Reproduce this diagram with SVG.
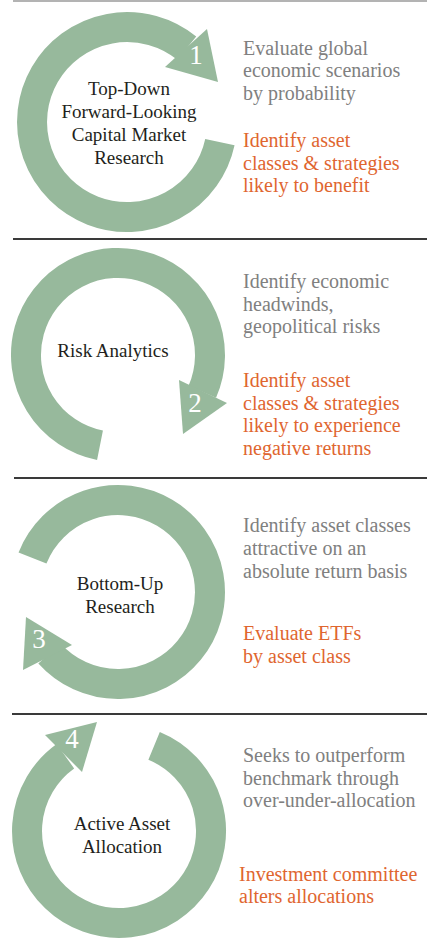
<svg xmlns="http://www.w3.org/2000/svg" width="427" height="948" viewBox="0 0 427 948">
<style>
.ring{fill:none;stroke:#97b99c;stroke-width:30;stroke-linecap:butt}
.head{fill:#97b99c}
.num{font-family:"Liberation Serif",serif;font-size:27px;fill:#ffffff;text-anchor:middle}
.title{font-family:"Liberation Serif",serif;font-size:19px;fill:#231f20;text-anchor:middle}
.desc{font-family:"Liberation Serif",serif;font-size:20px;fill:#808080}
.act{font-family:"Liberation Serif",serif;font-size:20px;fill:#df6630}
.sep{stroke:#3a3a3a;stroke-width:2}
</style>
<rect width="427" height="948" fill="#ffffff"/>
<g id="separators">
<line x1="13" y1="1" x2="427" y2="1" stroke="#b3b3b3" stroke-width="2"/>
<line class="sep" x1="13" y1="239" x2="427" y2="239"/>
<line class="sep" x1="14" y1="478" x2="427" y2="478"/>
<line class="sep" x1="12" y1="714" x2="427" y2="714"/>
</g>
<g id="node1">
<path class="ring" d="M 219.9 142.1 A 95 95 0 1 1 186.8 48.2"/>
<polygon class="head" points="165,67 207,29 218,82"/>
<text class="num" x="196" y="64">1</text>
<text class="title" x="129" y="94.5">Top-Down</text>
<text class="title" x="129" y="117.5">Forward-Looking</text>
<text class="title" x="129" y="140.5">Capital Market</text>
<text class="title" x="129" y="163.5">Research</text>
<text class="desc" x="243" y="54.5">Evaluate global</text>
<text class="desc" x="243" y="77">economic scenarios</text>
<text class="desc" x="243" y="99.5">by probability</text>
<text class="act" x="243" y="147">Identify asset</text>
<text class="act" x="243" y="169.5">classes &amp; strategies</text>
<text class="act" x="243" y="192">likely to benefit</text>
</g>
<g id="node2">
<path class="ring" d="M 100 445.2 A 92 92 0 1 1 202.3 391.8"/>
<polygon class="head" points="179,380 227,403 183,434"/>
<text class="num" x="195" y="412">2</text>
<text class="title" x="113" y="357">Risk Analytics</text>
<text class="desc" x="243" y="288">Identify economic</text>
<text class="desc" x="243" y="310.5">headwinds,</text>
<text class="desc" x="243" y="333">geopolitical risks</text>
<text class="act" x="243" y="387">Identify asset</text>
<text class="act" x="243" y="409.5">classes &amp; strategies</text>
<text class="act" x="243" y="432">likely to experience</text>
<text class="act" x="243" y="454.5">negative returns</text>
</g>
<g id="node3">
<path class="ring" d="M 32.5 558 A 92 92 0 1 1 49.5 653.5"/>
<polygon class="head" points="72,645 23,670 26,617"/>
<text class="num" x="39" y="648">3</text>
<text class="title" x="120" y="589.5">Bottom-Up</text>
<text class="title" x="120" y="612.5">Research</text>
<text class="desc" x="243" y="532">Identify asset classes</text>
<text class="desc" x="243" y="555">attractive on an</text>
<text class="desc" x="243" y="578">absolute return basis</text>
<text class="act" x="243" y="640">Evaluate ETFs</text>
<text class="act" x="243" y="663">by asset class</text>
</g>
<g id="node4">
<path class="ring" d="M 154.1 745.9 A 92 92 0 1 1 65.4 756.2"/>
<polygon class="head" points="45,735 82,772 97,722"/>
<text class="num" x="72" y="748">4</text>
<text class="title" x="122" y="829.5">Active Asset</text>
<text class="title" x="122" y="852.5">Allocation</text>
<text class="desc" x="243" y="762">Seeks to outperform</text>
<text class="desc" x="243" y="785">benchmark through</text>
<text class="desc" x="243" y="807">over-under-allocation</text>
<text class="act" x="239" y="881">Investment committee</text>
<text class="act" x="239" y="903">alters allocations</text>
</g>
</svg>
